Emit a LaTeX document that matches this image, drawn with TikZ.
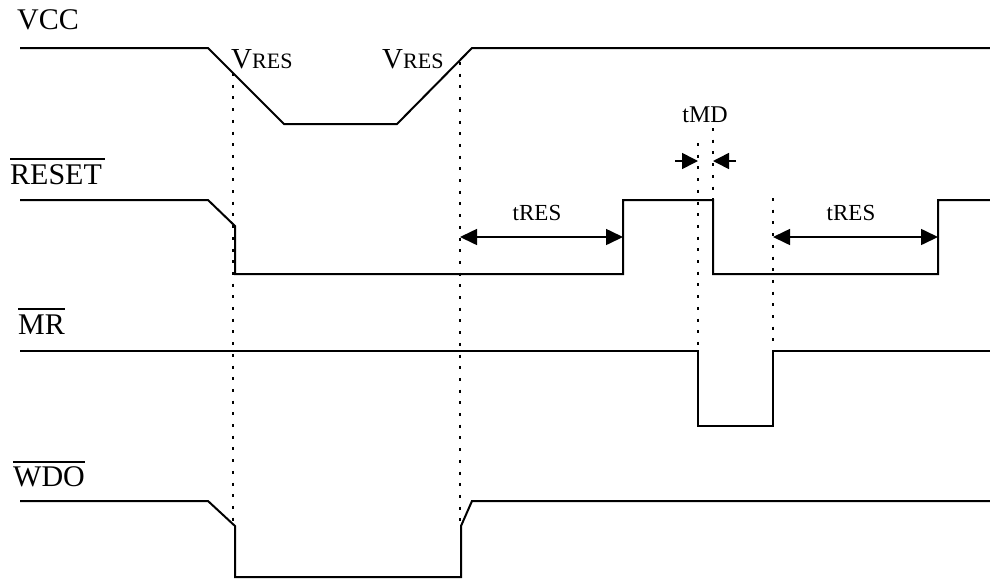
\documentclass[tikz,border=0pt]{standalone}
\usepackage{fontspec}
\setmainfont{Liberation Serif}
\usetikzlibrary{arrows.meta}
\begin{document}
\begin{tikzpicture}[x=1pt,y=-1pt,
  wave/.style={line width=2pt, line join=miter},
  guide/.style={line width=1.7pt, dash pattern=on 3pt off 8.7pt},
  sig/.style={anchor=base west, inner sep=0pt, font=\fontsize{30}{30}\selectfont},
  bar/.style={line width=1.5pt},
  lbl/.style={inner sep=0pt, font=\fontsize{23}{23}\selectfont},
  both/.style={line width=1.6pt, {Triangle[length=17pt,width=16pt]}-{Triangle[length=17pt,width=16pt]}},
  one/.style={line width=1.6pt, -{Triangle[length=16pt,width=16pt]}}
]
\useasboundingbox (0,0) rectangle (990,579);

% signal names
\node[sig] (vcc) at (17,29) {VCC};
\node[sig] (reset) at (10,184) {RESET};
\node[sig] (mr) at (18,334) {MR};
\node[sig] (wdo) at (13,486) {WDO};
\draw[bar] ([yshift=5pt]reset.north west) -- ([yshift=5pt,xshift=3pt]reset.north east);
\draw[bar] ([yshift=5pt]mr.north west) -- ([yshift=5pt]mr.north east);
\draw[bar] ([yshift=4pt]wdo.north west) -- ([yshift=4pt]wdo.north east);

% waveforms
\draw[wave] (20,48) -- (208,48) -- (284,124) -- (397,124) -- (472,48) -- (990,48);
\draw[wave] (20,200) -- (208,200) -- (235,226) -- (235,274) -- (623,274) -- (623,200)
  -- (713,200) -- (713,274) -- (938,274) -- (938,200) -- (990,200);
\draw[wave] (20,351) -- (698,351) -- (698,426) -- (773,426) -- (773,351) -- (990,351);
\draw[wave] (20,501) -- (208,501) -- (235,526) -- (235,577) -- (461,577) -- (461,526)
  -- (472,501) -- (990,501);

% guide lines
\coordinate (g1t) at (233,73);  \coordinate (g1b) at (233,525);
\coordinate (g2t) at (460,62);  \coordinate (g2b) at (460,525);
\coordinate (g3t) at (698,143); \coordinate (g3b) at (698,351);
\coordinate (g4t) at (713,128); \coordinate (g4b) at (713,200);
\coordinate (g5t) at (773,198); \coordinate (g5b) at (773,351);
\draw[guide] (g1t) -- (g1b);
\draw[guide] (g2t) -- (g2b);
\draw[guide] (g3t) -- (g3b);
\draw[guide] (g4t) -- (g4b);
\draw[guide] (g5t) -- (g5b);

% labels
\node[anchor=base west, inner sep=0pt, font=\fontsize{29}{29}\selectfont] (vres1) at (231,68) {V\fontsize{22}{22}\selectfont RES};
\node[anchor=base west, inner sep=0pt, font=\fontsize{29}{29}\selectfont] (vres2) at (382,68) {V\fontsize{22}{22}\selectfont RES};
\node[lbl, anchor=base] (tres1) at (537,220) {tRES};
\node[lbl, anchor=base] (tres2) at (851,220) {tRES};
\node[inner sep=0pt, anchor=base, font=\fontsize{24}{24}\selectfont] (tmd) at (705,122) {tMD};

% measurement arrows
\coordinate (a1l) at (460,237); \coordinate (a1r) at (623,237);
\coordinate (a2l) at (773,237); \coordinate (a2r) at (938,237);
\coordinate (m1s) at (675,161); \coordinate (m1e) at (698,161);
\coordinate (m2s) at (736,161); \coordinate (m2e) at (713,161);
\draw[both] (a1l) -- (a1r);
\draw[both] (a2l) -- (a2r);
\draw[one] (m1s) -- (m1e);
\draw[one] (m2s) -- (m2e);
\end{tikzpicture}
\end{document}
